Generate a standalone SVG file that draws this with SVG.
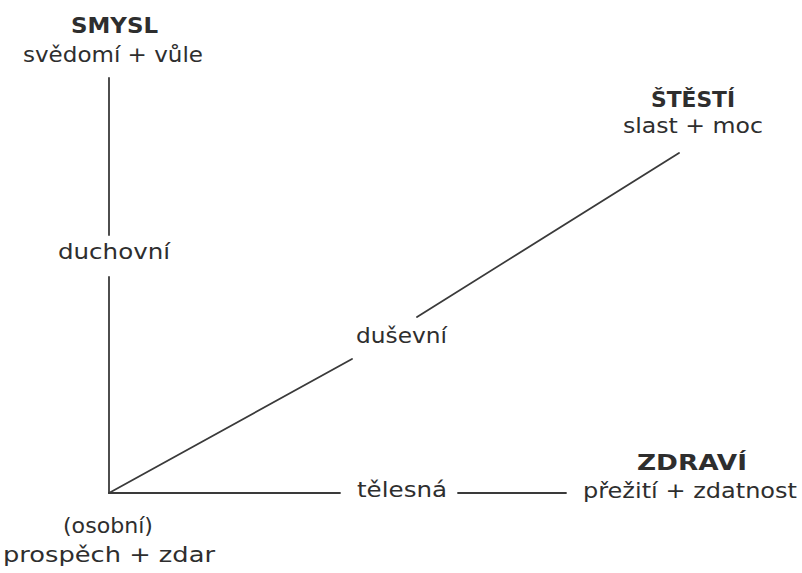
<svg xmlns="http://www.w3.org/2000/svg" width="802" height="573" viewBox="0 0 802 573">
  <style>
    text { font-family: "DejaVu Sans", "Liberation Sans", sans-serif; font-size: 21px; fill: #2e2e2e; }
    .t { font-weight: bold; font-size: 22px; }
    .ln { stroke: #3a3a3a; stroke-width: 1.8; fill: none; stroke-linecap: round; }
  </style>
  <rect width="802" height="573" fill="#ffffff"/>
  <g id="connectors">
    <line class="ln" x1="109" y1="78" x2="109" y2="235"/>
    <line class="ln" x1="109" y1="277" x2="109" y2="493"/>
    <line class="ln" x1="109" y1="493" x2="340" y2="493"/>
    <line class="ln" x1="458" y1="493" x2="566" y2="493"/>
    <line class="ln" x1="109" y1="493" x2="352" y2="359"/>
    <line class="ln" x1="417" y1="317" x2="679" y2="153"/>
  </g>
  <g id="smysl">
    <text class="t" x="71" y="33" textLength="87" lengthAdjust="spacingAndGlyphs">SMYSL</text>
    <text x="23" y="62" textLength="180" lengthAdjust="spacingAndGlyphs">svědomí + vůle</text>
  </g>
  <g id="stesti">
    <text class="t" x="651" y="107" textLength="84" lengthAdjust="spacingAndGlyphs">ŠTĚSTÍ</text>
    <text x="623" y="133" textLength="140" lengthAdjust="spacingAndGlyphs">slast + moc</text>
  </g>
  <g id="duchovni">
    <text x="58" y="259" textLength="112" lengthAdjust="spacingAndGlyphs">duchovní</text>
  </g>
  <g id="dusevni">
    <text x="356" y="343" textLength="91" lengthAdjust="spacingAndGlyphs">duševní</text>
  </g>
  <g id="telesna">
    <text x="357" y="497" textLength="90" lengthAdjust="spacingAndGlyphs">tělesná</text>
  </g>
  <g id="zdravi">
    <text class="t" x="637" y="470" textLength="110" lengthAdjust="spacingAndGlyphs">ZDRAVÍ</text>
    <text x="583" y="498" textLength="214" lengthAdjust="spacingAndGlyphs">přežití + zdatnost</text>
  </g>
  <g id="osobni">
    <text x="63" y="533" textLength="90" lengthAdjust="spacingAndGlyphs">(osobní)</text>
    <text x="3" y="562" textLength="212" lengthAdjust="spacingAndGlyphs">prospěch + zdar</text>
  </g>
</svg>
